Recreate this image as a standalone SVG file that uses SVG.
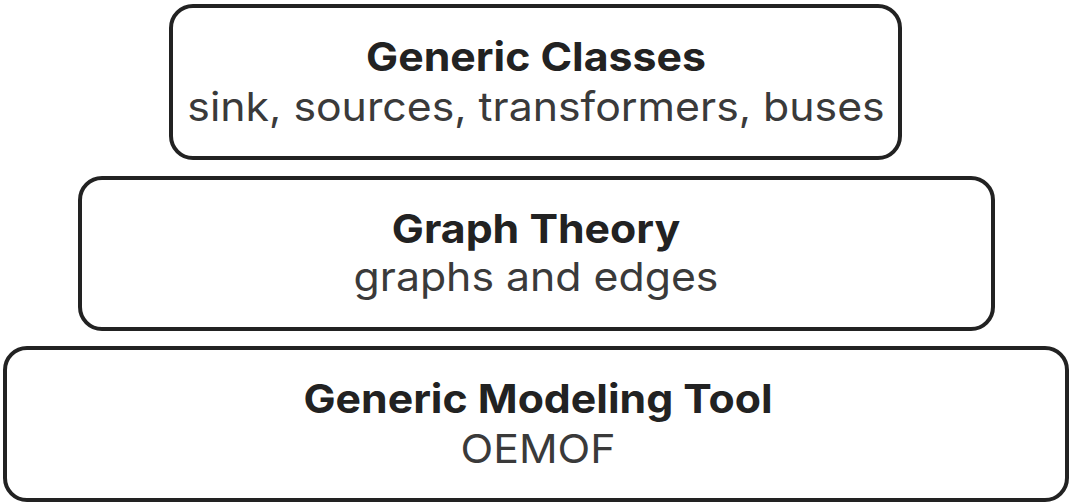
<svg xmlns="http://www.w3.org/2000/svg" width="1070" height="503" viewBox="0 0 1070 503">
<style>
.box{fill:#fff;stroke:#222;stroke-width:4}
.t{font-family:Inter,"Liberation Sans",sans-serif;font-weight:700;fill:#222;text-anchor:middle;font-size:40px}
.s{font-family:Inter,"Liberation Sans",sans-serif;font-weight:400;fill:#3a3a3a;text-anchor:middle;font-size:40px}
</style>
<rect width="1070" height="503" fill="#fff"/>
<g id="generic-classes">
<rect class="box" x="171" y="6" width="729" height="152" rx="22"/>
<g transform="translate(536,0) scale(1.07,1)">
<text class="t" x="0" y="71">Generic Classes</text>
<text class="s" x="0" y="121">sink, sources, transformers, buses</text>
</g>
</g>
<g id="graph-theory">
<rect class="box" x="80" y="178" width="913" height="151" rx="22"/>
<g transform="translate(536,0) scale(1.07,1)">
<text class="t" x="0" y="243">Graph Theory</text>
<text class="s" x="0" y="291">graphs and edges</text>
</g>
</g>
<g id="generic-modeling-tool">
<rect class="box" x="5" y="348" width="1062" height="152" rx="22"/>
<g transform="translate(538,0) scale(1.07,1)">
<text class="t" x="0" y="413">Generic Modeling Tool</text>
<text class="s" x="0" y="463">OEMOF</text>
</g>
</g>
<g id="connectors"></g>
</svg>
